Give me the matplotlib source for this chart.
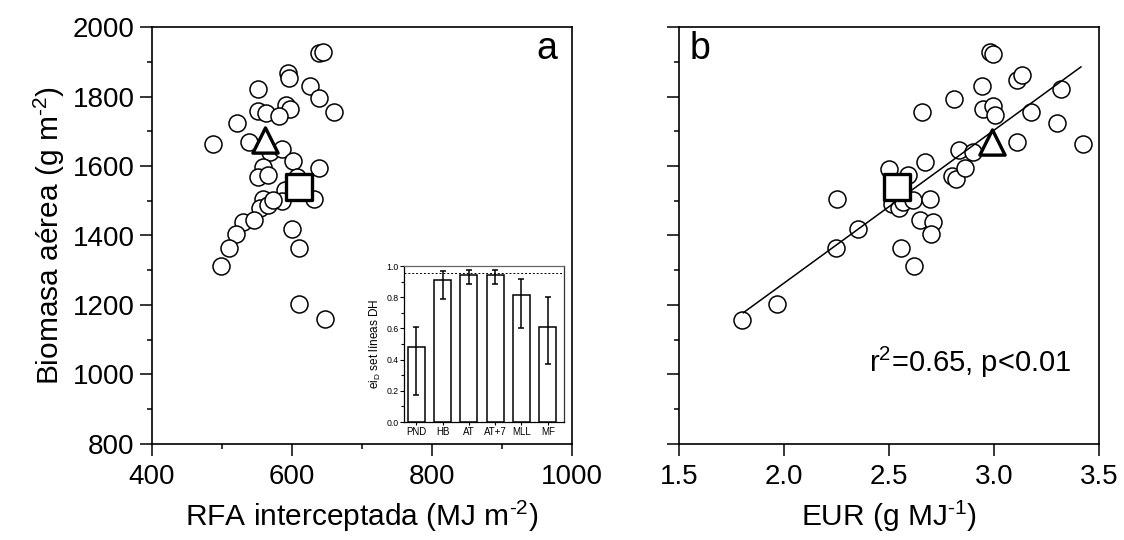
import matplotlib
matplotlib.use("Agg")
import matplotlib.pyplot as plt
import numpy as np

plt.rcParams['font.family'] = ['Liberation Sans', 'DejaVu Sans']
plt.rcParams['mathtext.fontset'] = 'custom'
plt.rcParams['mathtext.rm'] = 'Liberation Sans'
plt.rcParams['mathtext.it'] = 'Liberation Sans:italic'
plt.rcParams['mathtext.default'] = 'regular'

# ---- data: panel a (RFA interceptada vs biomasa) ----
rfa = [639, 644, 594, 596, 552, 625, 638, 660, 592, 597, 551, 563, 581, 521, 487,
       538, 569, 585, 602, 559, 552, 566, 638, 607, 632, 590, 585, 559, 554, 566,
       573, 530, 545, 520, 510, 499, 600, 610, 610, 647]
bio_a = [1925, 1928, 1867, 1852, 1822, 1831, 1795, 1755, 1775, 1763, 1757, 1752, 1745,
         1723, 1662, 1670, 1641, 1648, 1614, 1598, 1569, 1574, 1594, 1569, 1505, 1531,
         1499, 1505, 1478, 1488, 1502, 1440, 1445, 1403, 1363, 1312, 1419, 1365, 1203,
         1160]
tri_a = (562, 1675)
sq_a = (610, 1540)

# ---- data: panel b (EUR vs biomasa) ----
eur = [1.799, 1.968, 2.246, 2.251, 2.354, 2.501, 2.513, 2.549, 2.568, 2.616, 2.592,
       2.556, 2.619, 2.648, 2.708, 2.699, 2.695, 2.671, 2.659, 2.799, 2.818, 2.862,
       2.835, 2.898, 2.811, 2.941, 2.949, 2.997, 3.005, 2.981, 2.997, 3.108, 3.135,
       3.108, 3.175, 3.318, 3.299, 3.422]
bio_b = [1157, 1203, 1363, 1505, 1419, 1591, 1490, 1478, 1497, 1502, 1574, 1365, 1313,
         1445, 1440, 1403, 1505, 1612, 1755, 1572, 1564, 1594, 1646, 1641, 1793, 1831,
         1763, 1773, 1747, 1929, 1921, 1847, 1862, 1670, 1754, 1822, 1723, 1662]
tri_b = (2.989, 1670)
sq_b = (2.537, 1540)
fit_slope = 440.0
fit_intercept = 383.0
fit_range = (1.806, 3.414)

# ---- data: inset ----
inset_cats = ['PND', 'HB', 'AT', 'AT+7', 'MLL', 'MF']
inset_vals = [0.48, 0.91, 0.945, 0.945, 0.815, 0.61]
inset_err_lo = [0.31, 0.12, 0.06, 0.06, 0.215, 0.235]
inset_err_hi = [0.13, 0.06, 0.03, 0.03, 0.10, 0.19]
inset_ref = 0.955

fig = plt.figure(figsize=(11.24, 5.4), dpi=100)
axA = fig.add_axes([152/1124, 96/540, 420/1124, 417/540])
axB = fig.add_axes([679/1124, 96/540, 420/1124, 417/540])

circ_kw = dict(s=150, facecolors='white', edgecolors='black', linewidths=1.1, zorder=3)
big_kw = dict(facecolors='white', edgecolors='black', linewidths=2.4, zorder=5)

LABEL_FS = 21.5

for ax in (axA, axB):
    ax.set_ylim(800, 2000)
    ax.set_yticks(np.arange(800, 2001, 200))
    ax.set_yticks(np.arange(900, 2000, 200), minor=True)
    for s in ax.spines.values():
        s.set_linewidth(1.2)
    ax.tick_params(which='major', direction='out', length=8.5, width=1.1, labelsize=20,
                   top=False, right=False)
    ax.tick_params(axis='x', which='major', pad=6)
    ax.tick_params(axis='y', which='major', pad=4)
    ax.tick_params(which='minor', direction='out', length=3.6, width=1.1,
                   top=False, right=False)

# Panel a
axA.scatter(rfa, bio_a, **circ_kw)
axA.scatter([tri_a[0]], [tri_a[1]], marker='^', s=330, **big_kw)
axA.scatter([sq_a[0]], [sq_a[1]], marker='s', s=330, **big_kw)
axA.set_xlim(400, 1000)
axA.set_xticks([400, 600, 800, 1000])
axA.set_xticks([500, 700, 900], minor=True)
axA.set_xlabel(r'RFA interceptada (MJ m$^{\text{-2}}$)', fontsize=LABEL_FS, labelpad=6)
axA.set_ylabel(r'Biomasa aérea (g m$^{\text{-2}}$)', fontsize=LABEL_FS, labelpad=4)
axA.text(0.965, 0.99, 'a', transform=axA.transAxes, ha='right', va='top', fontsize=27)

# Panel b
axB.scatter(eur, bio_b, **circ_kw)
xf = np.array(fit_range)
axB.plot(xf, fit_slope * xf + fit_intercept, color='black', lw=1.1, zorder=4)
axB.scatter([tri_b[0]], [tri_b[1]], marker='^', s=330, **big_kw)
axB.scatter([sq_b[0]], [sq_b[1]], marker='s', s=330, **big_kw)
axB.set_xlim(1.5, 3.5)
axB.set_xticks([1.5, 2.0, 2.5, 3.0, 3.5])
axB.xaxis.set_major_formatter(matplotlib.ticker.FormatStrFormatter('%.1f'))
axB.tick_params(axis='y', which='both', labelleft=False)
axB.set_xlabel(r'EUR (g MJ$^{\text{-1}}$)', fontsize=LABEL_FS, labelpad=6)
axB.text(0.025, 0.99, 'b', transform=axB.transAxes, ha='left', va='top', fontsize=27)
axB.text(0.935, 0.195, r'r$^{2}$=0.65, p<0.01', transform=axB.transAxes, ha='right',
         va='center', fontsize=21)

# Inset
axI = fig.add_axes([404/1124, 118/540, 160/1124, 156/540])
xi = np.arange(len(inset_cats))
axI.bar(xi, inset_vals, width=0.65, color='white', edgecolor='black', linewidth=1.1,
        yerr=[inset_err_lo, inset_err_hi], capsize=2.5,
        error_kw=dict(elinewidth=1.1, capthick=1.1, ecolor='black'), zorder=3)
axI.axhline(inset_ref, color='black', lw=0.7, ls=(0, (2, 2)), zorder=2)
axI.set_xlim(-0.47, 5.62)
axI.set_ylim(0, 1.0)
axI.set_xticks(xi)
axI.set_xticklabels(inset_cats, fontsize=7)
axI.set_yticks(np.arange(0, 1.01, 0.2))
axI.set_yticks(np.arange(0.1, 1.0, 0.2), minor=True)
axI.set_yticklabels(['0.0', '0.2', '0.4', '0.6', '0.8', '1.0'], fontsize=6.3)
axI.tick_params(which='major', length=3, width=0.8, pad=1)
axI.tick_params(which='minor', length=2, width=0.8)
axI.tick_params(axis='x', length=2, pad=1.5)
for name, s in axI.spines.items():
    s.set_linewidth(0.9)
axI.spines['top'].set_color('#666666')
axI.spines['right'].set_color('#333333')
axI.set_ylabel(r'ei$_{D}$ set líneas DH', fontsize=8.5, labelpad=2)

fig.savefig('out.png', dpi=100)
